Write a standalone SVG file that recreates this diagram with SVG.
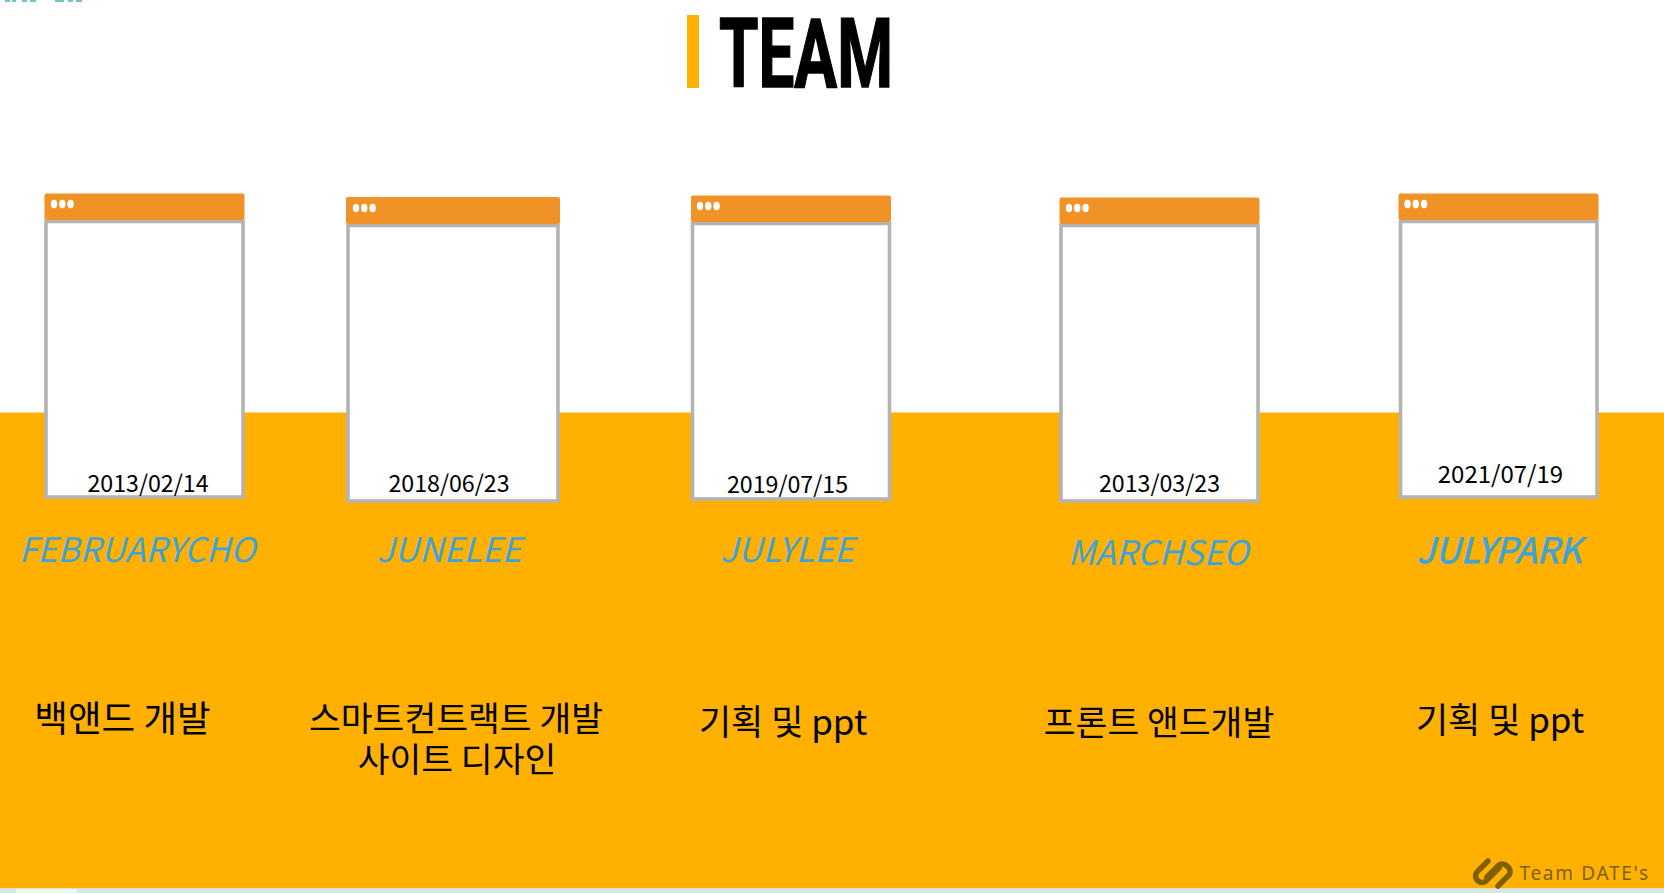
<svg xmlns="http://www.w3.org/2000/svg" width="1664" height="893" viewBox="0 0 1664 893">
<style>
.hd{fill:#f09226}.bd{fill:#fff;stroke:#b3b3b3;stroke-width:3.6}.dot{fill:#fff}
.date{font:23.200px "Noto Sans CJK KR","Noto Sans",sans-serif;fill:#000;text-anchor:middle}
.name{font:italic 33.800px "Noto Sans CJK KR","Noto Sans",sans-serif;fill:#3ea3da;text-anchor:middle}
.role{font:34.600px "Noto Sans CJK KR","Noto Sans",sans-serif;fill:#000;text-anchor:middle}
</style>
<defs>
<g id="dots"><ellipse cx="0" cy="0" rx="3.200" ry="4.200" class="dot"/><ellipse cx="8.300" cy="0" rx="3.200" ry="4.200" class="dot"/><ellipse cx="16.600" cy="0" rx="3.200" ry="4.200" class="dot"/></g>
</defs>
<rect width="1664" height="893" fill="#fff"/>
<g fill="#6cc7c7"><rect x="5" y="0" width="5" height="2"/><rect x="12" y="0" width="4" height="2"/><rect x="22" y="0" width="5" height="2"/><rect x="30" y="0" width="6" height="2"/><rect x="55" y="0" width="9" height="2"/><rect x="68" y="0" width="5" height="2"/><rect x="76" y="0" width="6" height="2"/></g>
<rect y="412.500" width="1664" height="476" fill="#ffb000"/>
<rect y="888.500" width="1664" height="4.500" fill="#d5e8e8"/>
<rect x="16" y="889" width="61" height="4" fill="#eef6f2"/>
<g id="title"><rect x="687" y="15" width="12" height="73" fill="#ffb000"/>
<text x="719" y="87" font-family="'Liberation Sans Narrow','Roboto',sans-serif" font-weight="700" font-size="97" textLength="174" lengthAdjust="spacingAndGlyphs" fill="#000" stroke="#000" stroke-width="1.500">TEAM</text></g>
<g id="card1"><rect class="bd" x="46" y="221.500" width="197" height="275.500"/><rect class="hd" x="44.500" y="193.500" width="200" height="26.500" rx="2"/><use href="#dots" x="54" y="204"/><text class="date" x="148" y="492">2013/02/14</text></g>
<g id="card2"><rect class="bd" x="348" y="225.500" width="210" height="275.500"/><rect class="hd" x="346" y="197" width="214" height="27" rx="2"/><use href="#dots" x="356" y="208"/><text class="date" x="449" y="492">2018/06/23</text></g>
<g id="card3"><rect class="bd" x="692.500" y="223.500" width="197" height="275.500"/><rect class="hd" x="691" y="195.500" width="200" height="26.500" rx="2"/><use href="#dots" x="700" y="206"/><text class="date" x="787.500" y="493">2019/07/15</text></g>
<g id="card4"><rect class="bd" x="1061" y="225.500" width="197" height="275.500"/><rect class="hd" x="1059.500" y="197.500" width="200" height="26.500" rx="2"/><use href="#dots" x="1069" y="208"/><text class="date" x="1159.500" y="492">2013/03/23</text></g>
<g id="card5"><rect class="bd" x="1400.500" y="221.500" width="196.500" height="275.500"/><rect class="hd" x="1398.500" y="193.500" width="200" height="26.500" rx="2"/><use href="#dots" x="1407.500" y="204"/><text class="date" x="1500.500" y="483" style="font-size:24px">2021/07/19</text></g>
<g id="names">
<text class="name" x="137" y="562">FEBRUARYCHO</text>
<text class="name" x="449" y="562">JUNELEE</text>
<text class="name" x="787" y="562">JULYLEE</text>
<text class="name" x="1158" y="565">MARCHSEO</text>
<text class="name" x="1499" y="563" stroke="#3ea3da" stroke-width=".8" style="font-size:35px">JULYPARK</text>
</g>
<g id="roles">
<text class="role" x="122.500" y="732" style="font-size:36.600px">백앤드 개발</text>
<text class="role" x="456" y="731">스마트컨트랙트 개발</text>
<text class="role" x="457" y="772">사이트 디자인</text>
<text class="role" x="783" y="735" style="font-size:35px">기획 및 ppt</text>
<text class="role" x="1159" y="735">프론트 앤드개발</text>
<text class="role" x="1500" y="733" style="font-size:35px">기획 및 ppt</text>
</g>
<g id="logo">
<path fill="none" stroke="#7f5f00" stroke-width="5.500" stroke-linecap="round" d="M1488 861L1478 871a6.500 6.500 0 0 0 0 10a6.500 6.500 0 0 0 8 0L1499 868M1498 886L1507 877a6.500 6.500 0 0 0 0-11a6.500 6.500 0 0 0-8-1L1487 877"/>
<text x="1519.500" y="880" font-family="'Noto Sans','Open Sans',sans-serif" font-size="19" letter-spacing="1.700" fill="#7f5f00">Team DATE's</text>
</g>
</svg>
